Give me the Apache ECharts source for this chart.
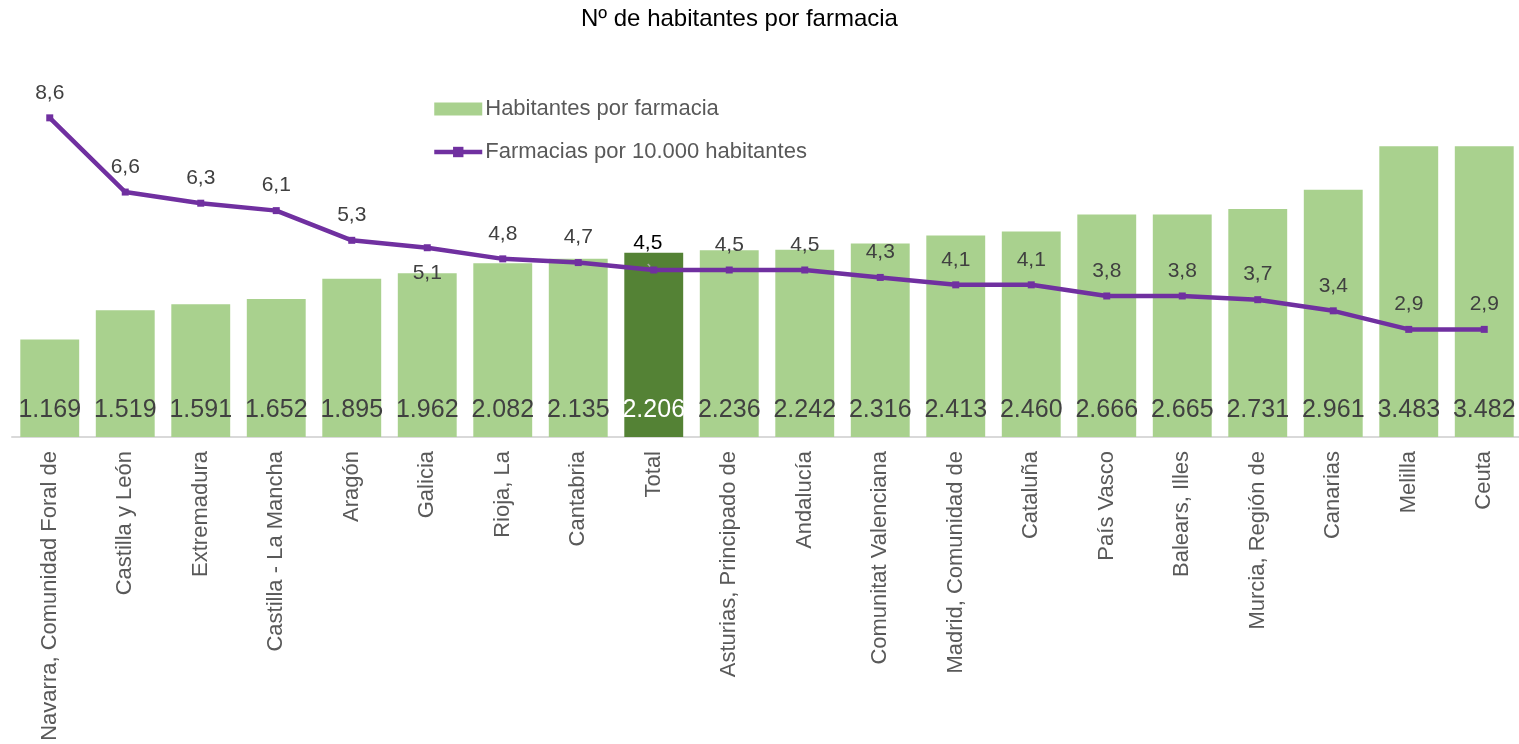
<!DOCTYPE html>
<html>
<head>
<meta charset="utf-8">
<title>Nº de habitantes por farmacia</title>
<script src="https://cdn.jsdelivr.net/npm/echarts@6/dist/echarts.min.js"></script>
<style>
  html, body { margin: 0; padding: 0; background: #ffffff; }
  #chart { width: 1519px; height: 744px; }
</style>
</head>
<body>
<div id="chart"></div>
<script>
// Comunidades autónomas, ordenadas por habitantes por farmacia
const regions = [
  'Navarra, Comunidad Foral de', 'Castilla y León', 'Extremadura', 'Castilla - La Mancha',
  'Aragón', 'Galicia', 'Rioja, La', 'Cantabria', 'Total', 'Asturias, Principado de',
  'Andalucía', 'Comunitat Valenciana', 'Madrid, Comunidad de', 'Cataluña', 'País Vasco',
  'Balears, Illes', 'Murcia, Región de', 'Canarias', 'Melilla', 'Ceuta'
];

// Habitantes por farmacia
const habitantesPorFarmacia = [
  1169, 1519, 1591, 1652, 1895, 1962, 2082, 2135, 2206, 2236,
  2242, 2316, 2413, 2460, 2666, 2665, 2731, 2961, 3483, 3482
];

// Farmacias por 10.000 habitantes
const farmaciasPor10000 = [
  8.6, 6.6, 6.3, 6.1, 5.3, 5.1, 4.8, 4.7, 4.5, 4.5,
  4.5, 4.3, 4.1, 4.1, 3.8, 3.8, 3.7, 3.4, 2.9, 2.9
];

const FONT = '"Liberation Sans", Arial, sans-serif';
const BAR_COLOR = '#a9d18e';
const TOTAL_COLOR = '#548235';
const LINE_COLOR = '#7030a0';
const TOTAL_NAME = 'Total';
const LABEL_BELOW = new Set(['Galicia']);

const fmtThousands = v => String(v).replace(/\B(?=(\d{3})+(?!\d))/g, '.');
const fmtDecimal = v => v.toFixed(1).replace('.', ',');

const barData = habitantesPorFarmacia.map((v, i) => {
  const item = { value: v };
  if (regions[i] === TOTAL_NAME) {
    item.itemStyle = { color: TOTAL_COLOR };
    item.label = { color: '#ffffff' };
  }
  return item;
});

const lineData = farmaciasPor10000.map((v, i) => {
  const item = { value: v };
  if (LABEL_BELOW.has(regions[i])) {
    item.label = { position: 'bottom' };
  }
  if (regions[i] === TOTAL_NAME) {
    // Total: black label, pulled up-left with a thin guide line to its point
    item.label = { color: '#000000', offset: [-6, -2] };
    item.labelLine = { show: true, lineStyle: { color: '#a6a6a6', width: 1.5 } };
  }
  return item;
});

const chart = echarts.init(document.getElementById('chart'), null, { renderer: 'canvas' });

chart.setOption({
  animation: false,
  backgroundColor: '#ffffff',
  textStyle: { fontFamily: FONT },
  title: {
    text: 'Nº de habitantes por farmacia',
    left: 581,
    top: 7,
    padding: 0,
    textStyle: { fontFamily: FONT, fontSize: 24, fontWeight: 'normal', color: '#000000' }
  },
  legend: {
    orient: 'vertical',
    left: 432,
    top: 98,
    padding: 0,
    itemGap: 21,
    itemWidth: 48,
    itemHeight: 13,
    textStyle: { fontFamily: FONT, fontSize: 22, color: '#595959', padding: [0, 0, 0, -2] },
    data: [
      { name: 'Habitantes por farmacia', icon: 'rect' },
      { name: 'Farmacias por 10.000 habitantes', lineStyle: { width: 4.5, color: LINE_COLOR } }
    ]
  },
  grid: { left: 12, right: -3, top: 103, bottom: 307, containLabel: false, outerBoundsMode: 'none' },
  xAxis: {
    type: 'category',
    data: regions,
    axisLine: { lineStyle: { color: '#d9d9d9', width: 2 } },
    axisTick: { show: false },
    axisLabel: {
      rotate: 90,
      interval: 0,
      margin: 14,
      fontFamily: FONT,
      fontSize: 22,
      color: '#595959'
    }
  },
  yAxis: [
    { type: 'value', min: 0, max: 4000, show: false, splitLine: { show: false } },
    { type: 'value', min: 0, max: 9, show: false, splitLine: { show: false } }
  ],
  series: [
    {
      name: 'Habitantes por farmacia',
      type: 'bar',
      yAxisIndex: 0,
      data: barData,
      barCategoryGap: '22%',
      itemStyle: { color: BAR_COLOR },
      label: {
        show: true,
        position: 'insideBottom',
        distance: 14,
        fontFamily: FONT,
        fontSize: 25,
        color: '#404040',
        formatter: p => fmtThousands(p.value)
      },
      z: 1
    },
    {
      name: 'Farmacias por 10.000 habitantes',
      type: 'line',
      yAxisIndex: 1,
      data: lineData,
      symbol: 'rect',
      symbolSize: 7,
      lineStyle: { color: LINE_COLOR, width: 4.5 },
      itemStyle: { color: LINE_COLOR },
      label: {
        show: true,
        position: 'top',
        distance: 11,
        fontFamily: FONT,
        fontSize: 21,
        color: '#404040',
        formatter: p => fmtDecimal(p.value)
      },
      z: 3
    }
  ]
});
</script>
</body>
</html>
